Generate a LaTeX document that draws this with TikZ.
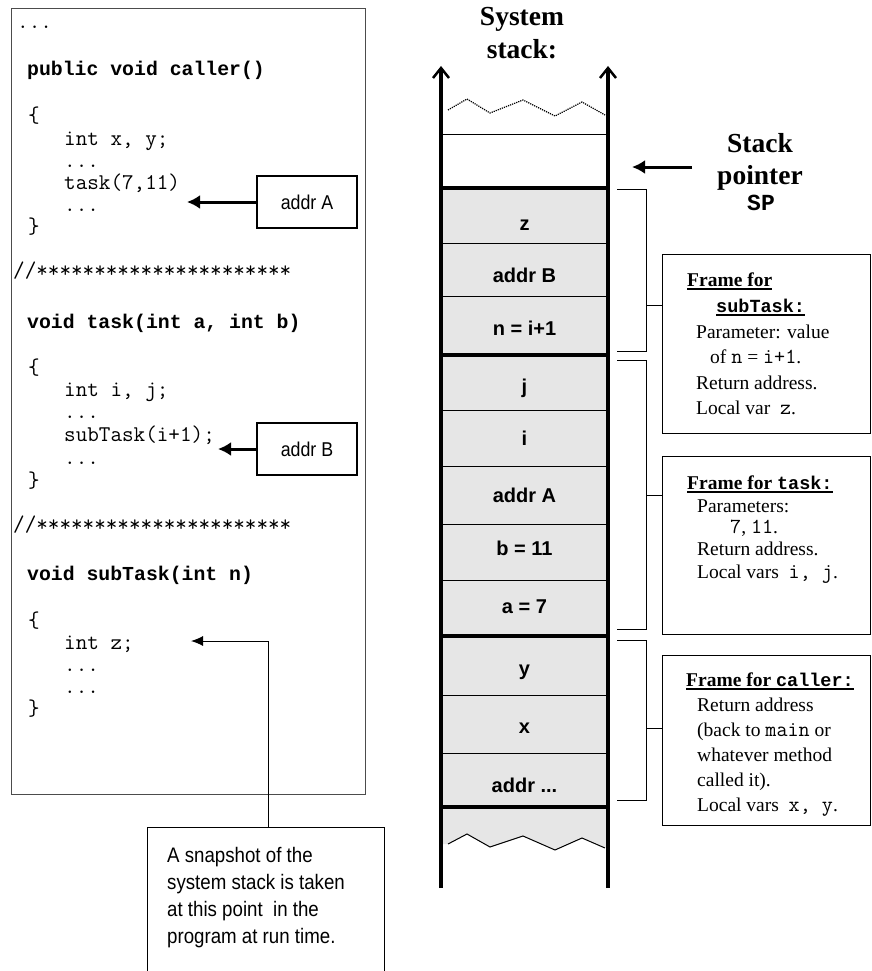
\documentclass[tikz,border=0pt]{standalone}
\usepackage{fontspec}
\setmainfont{Liberation Serif}
\setsansfont{Liberation Sans}
\newfontfamily\narrowsans[FakeStretch=0.89]{Liberation Sans}
\newfontfamily\bmono{Liberation Mono}
\usetikzlibrary{arrows.meta}
\definecolor{stackgray}{RGB}{230,230,230}
\newcommand\fulin[1]{\setbox0\hbox{#1}\rlap{\rule[-3.5pt]{\wd0}{1.6pt}}\box0}
\newcommand\mt[1]{{\fontsize{21.5}{22}\selectfont\ttfamily #1}}
\newcommand\mb[1]{{\fontsize{18.5}{22}\selectfont\bmono\bfseries #1}}
\begin{document}
\begin{tikzpicture}[x=1pt,y=-1pt,
 code/.style={anchor=base west, inner sep=0pt, font=\fontsize{22.5}{24}\selectfont\ttfamily},
 codeb/.style={anchor=base west, inner sep=0pt, font=\fontsize{19.8}{24}\selectfont\bmono\bfseries},
 note/.style={anchor=base west, inner sep=0pt, font=\fontsize{21}{24}\selectfont\narrowsans},
 cell/.style={anchor=base, inner sep=0pt, font=\fontsize{20}{22}\selectfont\sffamily\bfseries},
 ftxt/.style={anchor=base west, inner sep=0pt, font=\fontsize{19.5}{22}\selectfont\rmfamily},
 ttl/.style={anchor=base, inner sep=0pt, font=\fontsize{27.5}{30}\selectfont\rmfamily\bfseries},
 thinl/.style={line width=1pt},
 sepl/.style={line width=4.5pt},
 wall/.style={line width=3.5pt, -{Straight Barb[length=10pt,width=16pt,line width=2.5pt]}},
 fatarrow/.style={line width=3pt, -{Latex[length=13pt,width=14pt]}},
 boxl/.style={draw, line width=1.3pt}
]
\useasboundingbox (0,0) rectangle (872,971);

% ---------- code box ----------
\node[draw=black!70, line width=1.3pt, minimum width=354pt, minimum height=786pt, anchor=north west, inner sep=0pt] (codebox) at (11,8) {};

\node[code]  (l1)  at (17,29)  {...};
\node[codeb] (l2)  at (27,76)  {public void caller()};
\node[code]  (l3)  at (28,123) {\{};
\node[code]  (l4)  at (64,145) {int x, y;};
\node[code]  (l5)  at (64,167) {...};
\node[code]  (l6)  at (64,189) {task(7,11)};
\node[code]  (l7)  at (64,211) {...};
\node[code]  (l8)  at (28,233) {\}};
\node[code]  (l9)  at (13,277) {//**********************};
\node[codeb] (l10) at (27,328) {void task(int a, int b)};
\node[code]  (l11) at (28,374) {\{};
\node[code]  (l12) at (64,396) {int i, j;};
\node[code]  (l13) at (64,418) {...};
\node[code]  (l14) at (64,441) {subTask(i+1);};
\node[code]  (l15) at (64,464) {...};
\node[code]  (l16) at (28,487) {\}};
\node[code]  (l17) at (13,531) {//**********************};
\node[codeb] (l18) at (27,580) {void subTask(int n)};
\node[code]  (l19) at (28,627) {\{};
\node[code]  (l20) at (64,649) {int z;};
\node[code]  (l21) at (64,671) {...};
\node[code]  (l22) at (64,693) {...};
\node[code]  (l23) at (28,715) {\}};

% addr boxes
\node[boxl, minimum width=100pt, minimum height=52pt, inner sep=0pt, font=\fontsize{20}{22}\selectfont\narrowsans] (addrA) at (307,202) {addr A};
\node[boxl, minimum width=100pt, minimum height=52pt, inner sep=0pt, font=\fontsize{20}{22}\selectfont\narrowsans] (addrB) at (307,449) {addr B};
\coordinate (tA) at (187,202);
\coordinate (tB) at (218,449);
\draw[fatarrow] (addrA.west) -- (tA);
\draw[fatarrow] (addrB.west) -- (tB);

% snapshot box
\node[boxl, minimum width=237pt, minimum height=170pt, anchor=north west, inner sep=0pt] (snapbox) at (147,827) {};
\node[note] (s1) at (167,862) {A snapshot of the};
\node[note] (s2) at (167,889) {system stack is taken};
\node[note] (s3) at (167,916) {at this point\ \ in the};
\node[note] (s4) at (167,943) {program at run time.};
\coordinate (tz) at (191,641);
\draw[thinl, -{Latex[length=12pt,width=10pt]}] ([xshift=121pt]snapbox.north west) |- (tz);

% ---------- stack ----------
\fill[stackgray] (441,188) -- (608,188) -- (608,843) -- (605,848) -- (582,838) -- (555,850) -- (523,836) -- (490,847) -- (467,834) -- (448,844) -- (441,844) -- cycle;
\draw[thinl] (448,844) -- (467,834) -- (490,847) -- (523,836) -- (555,850) -- (582,838) -- (605,848);
\draw[densely dotted, line width=1.2pt] (448,110) -- (467,99) -- (490,113) -- (523,100) -- (555,116) -- (582,102) -- (605,115);
\draw[thinl] (441,134) -- (606,134);
\foreach \yy in {243,296,410,466,524,580,695,753} {\draw[thinl] (441,\yy) -- (607,\yy);}
\foreach \yy in {188,355,636,807} {\draw[sepl] (441,\yy) -- (608,\yy);}
\coordinate (wl) at (441,888);
\coordinate (wlt) at (441,66);
\coordinate (wr) at (608,888);
\coordinate (wrt) at (608,66);
\draw[wall] (wl) -- (wlt);
\draw[wall] (wr) -- (wrt);

\node[cell] (cz) at (524.5,230) {z};
\node[cell] (cab) at (524.5,282) {addr B};
\node[cell] (cn) at (524.5,335) {n = i+1};
\node[cell] (cj) at (524.5,393) {j};
\node[cell] (ci) at (524.5,445) {i};
\node[cell] (caa) at (524.5,502) {addr A};
\node[cell] (cb) at (524.5,555) {b = 11};
\node[cell] (ca) at (524.5,613) {a = 7};
\node[cell] (cy) at (524.5,675) {y};
\node[cell] (cx) at (524.5,733) {x};
\node[cell] (cdots) at (524.5,792) {addr ...};

% titles
\node[ttl] (t1) at (522,26) {System};
\node[ttl] (t2) at (522,59) {stack:};
\node[ttl] (t3) at (760,152) {Stack};
\node[ttl] (t4) at (760,184) {pointer};
\node[anchor=base, inner sep=0pt, font=\fontsize{23}{26}\selectfont\bmono\bfseries] (t5) at (761,210) {SP};
\coordinate (sps) at (692,167);
\coordinate (spt) at (632,167);
\draw[fatarrow] (sps) -- (spt);

% ---------- frame boxes ----------
\node[boxl, minimum width=208pt, minimum height=179pt, anchor=north west, inner sep=0pt] (fb1) at (662,254) {};
\node[boxl, minimum width=208pt, minimum height=178pt, anchor=north west, inner sep=0pt] (fb2) at (662,456) {};
\node[boxl, minimum width=208pt, minimum height=170pt, anchor=north west, inner sep=0pt] (fb3) at (662,655) {};

% brackets
\draw[thinl] (617,189) -- (646,189) -- (646,351) -- (617,351);
\draw[thinl] (646,305) -- (fb1.west |- 0,305);
\draw[thinl] (617,360) -- (646,360) -- (646,629) -- (617,629);
\draw[thinl] (646,495) -- (fb2.west |- 0,495);
\draw[thinl] (617,640) -- (646,640) -- (646,800) -- (617,800);
\draw[thinl] (646,728) -- (fb3.west |- 0,728);

% frame texts
\node[ftxt] (f1a) at (687,286) {\fulin{\bfseries Frame for}};
\node[ftxt] (f1b) at (716,312) {\fulin{\mb{subTask:}}};
\node[ftxt] (f1c) at (696,338) {Parameter: value};
\node[ftxt] (f1d) at (710,363) {of \mt{n} = \mt{i+1}.};
\node[ftxt] (f1e) at (696,389) {Return address.};
\node[ftxt] (f1f) at (696,414) {Local var\ \ \mt{z}.};

\node[ftxt] (f2a) at (687,489) {\fulin{\bfseries Frame for \mb{task:}}};
\node[ftxt] (f2b) at (697,512) {Parameters:};
\node[ftxt] (f2c) at (730,533) {\mt{7}, \mt{11}.};
\node[ftxt] (f2d) at (697,555) {Return address.};
\node[ftxt] (f2e) at (697,578) {Local vars\ \ \mt{i, j}.};

\node[ftxt] (f3a) at (686,686) {\fulin{\bfseries Frame for \mb{caller:}}};
\node[ftxt] (f3b) at (697,711) {Return address};
\node[ftxt] (f3c) at (697,736) {(back to \mt{main} or};
\node[ftxt] (f3d) at (697,761) {whatever method};
\node[ftxt] (f3e) at (697,786) {called it).};
\node[ftxt] (f3f) at (697,811) {Local vars\ \ \mt{x, y}.};
\end{tikzpicture}
\end{document}
